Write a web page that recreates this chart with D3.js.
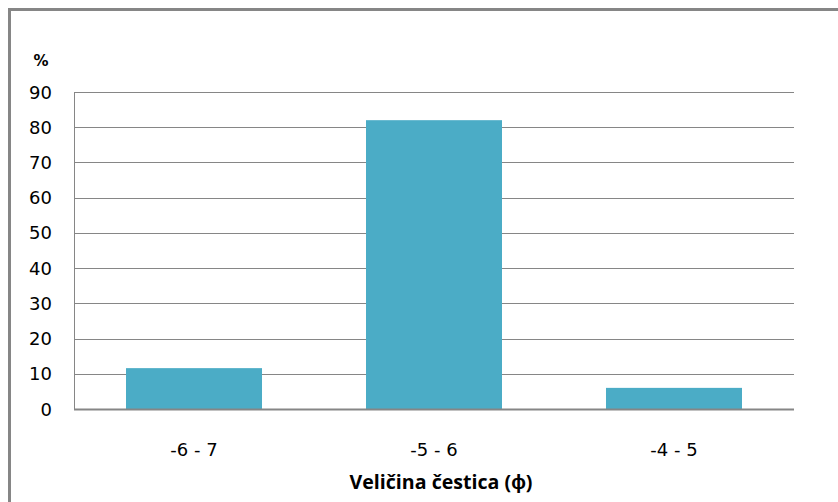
<!DOCTYPE html>
<html>
<head>
  <meta charset="UTF-8">
  <title>Veličina čestica</title>
  <style>
    body { margin: 0; background: #fff; }
    svg { display: block; }
  </style>
</head>
<body>
<svg></svg>
<script src="https://d3js.org/d3.v7.min.js"></script>
<script>

// data
let categories = ["-6 - 7", "-5 - 6", "-4 - 5"];
let values = [11.6, 82, 6];
let yTicks = [0, 10, 20, 30, 40, 50, 60, 70, 80, 90];

let width = 838,
    height = 502;

let margin = {left: 74, right: 44, top: 92, bottom: 93};

let svg = d3.select("svg")
    .attr("width", width)
    .attr("height", height);

// outer frame
svg.append("rect")
    .attr("x", 9.5)
    .attr("y", 9.5)
    .attr("width", width + 20)
    .attr("height", height + 20)
    .attr("fill", "none")
    .attr("stroke", "#868686")
    .attr("stroke-width", 3);

let x = d3.scaleBand()
    .domain(categories)
    .range([margin.left, width - margin.right])
    .paddingInner(0.4333)
    .paddingOuter(0.2167);

let y = d3.scaleLinear()
    .domain([0, 90])
    .range([height - margin.bottom, margin.top]);

// gridlines
svg.append("g")
    .selectAll("line")
    .data(yTicks.filter(d => d > 0))
    .enter()
    .append("line")
    .attr("x1", margin.left)
    .attr("x2", width - margin.right)
    .attr("y1", d => Math.round(y(d)) + 0.5)
    .attr("y2", d => Math.round(y(d)) + 0.5)
    .attr("stroke", "#868686")
    .attr("stroke-width", 1);

// bars
svg.append("g")
    .selectAll("rect")
    .data(values)
    .enter()
    .append("rect")
    .attr("x", (d, i) => x(categories[i]))
    .attr("width", x.bandwidth())
    .attr("y", d => y(d))
    .attr("height", d => y(0) - y(d))
    .attr("fill", "#4BACC6");

// axes lines
svg.append("line")
    .attr("x1", margin.left + 0.5)
    .attr("x2", margin.left + 0.5)
    .attr("y1", margin.top)
    .attr("y2", y(0))
    .attr("stroke", "#868686");

svg.append("line")
    .attr("x1", margin.left)
    .attr("x2", width - margin.right)
    .attr("y1", y(0) + 0.5)
    .attr("y2", y(0) + 0.5)
    .attr("stroke", "#868686")
    .attr("stroke-width", 2);

// y tick labels
svg.append("g")
    .selectAll("text")
    .data(yTicks)
    .enter()
    .append("text")
    .attr("x", 52)
    .attr("y", d => y(d) + 6.5)
    .attr("text-anchor", "end")
    .style("font", "18px 'DejaVu Sans', sans-serif")
    .style("fill", "#000")
    .text(d => d);

svg.append("text")
    .attr("x", 41)
    .attr("y", 66)
    .attr("text-anchor", "middle")
    .style("font", "bold 15px 'DejaVu Sans', sans-serif")
    .text("%");

// x labels
svg.append("g")
    .selectAll("text")
    .data(categories)
    .enter()
    .append("text")
    .attr("x", d => x(d) + x.bandwidth() / 2)
    .attr("y", 456)
    .attr("text-anchor", "middle")
    .style("font", "18px 'DejaVu Sans', sans-serif")
    .text(d => d);

svg.append("text")
    .attr("x", 441)
    .attr("y", 489)
    .attr("text-anchor", "middle")
    .attr("textLength", 183)
    .attr("lengthAdjust", "spacingAndGlyphs")
    .style("font", "bold 20px 'Open Sans', sans-serif")
    .text("Veličina čestica (ɸ)");

</script>
</body>
</html>
